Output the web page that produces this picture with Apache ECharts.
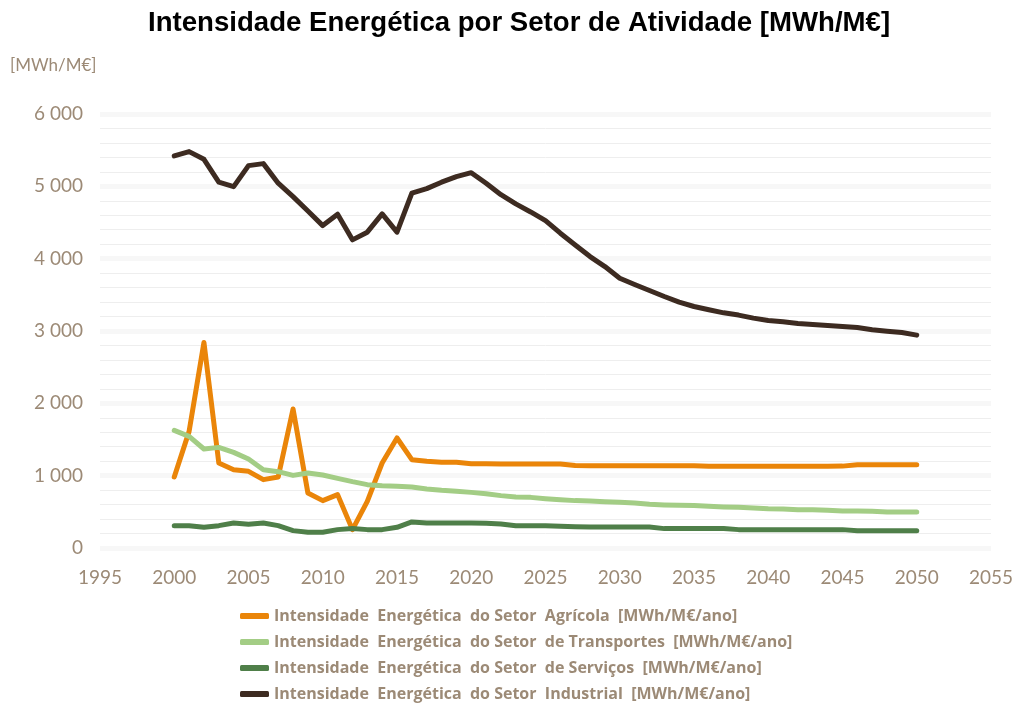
<!DOCTYPE html>
<html>
<head>
<meta charset="utf-8">
<script src="https://cdn.jsdelivr.net/npm/echarts@6/dist/echarts.min.js"></script>
<style>
  html, body { margin: 0; padding: 0; background: #fff; }
  #main { width: 1018px; height: 707px; }
</style>
</head>
<body>
<div id="main"></div>
<script>
// anos 2000-2050
var years = [];
for (var y = 2000; y <= 2050; y++) years.push(y);

var agricola = [982, 1612, 2841, 1175, 1083, 1060, 945, 982, 1921, 761,
    655, 738, 254, 645, 1175, 1521, 1221, 1198, 1184, 1184,
    1166, 1166, 1162, 1162, 1162, 1162, 1160, 1140, 1138, 1138,
    1138, 1138, 1138, 1138, 1138, 1138, 1129, 1129, 1129, 1129,
    1129, 1129, 1129, 1129, 1129, 1132, 1150, 1150, 1150, 1150, 1150];

var transportes = [1626, 1543, 1369, 1391, 1322, 1230, 1083, 1055, 1004, 1037,
    1009, 963, 917, 876, 862, 853, 844, 816, 797, 783,
    769, 751, 724, 706, 700, 682, 668, 655, 650, 641,
    631, 623, 604, 595, 590, 586, 576, 568, 562, 554,
    544, 540, 530, 530, 521, 512, 512, 507, 498, 498, 498];

var servicos = [309, 309, 286, 309, 346, 328, 346, 309, 240, 217,
    217, 254, 268, 254, 254, 286, 360, 346, 346, 346,
    346, 341, 332, 309, 309, 309, 300, 295, 290, 290,
    290, 290, 290, 268, 268, 268, 268, 268, 254, 254,
    254, 254, 254, 254, 254, 254, 240, 240, 240, 240, 240];

var industrial = [5420, 5480, 5374, 5057, 4996, 5286, 5314, 5043, 4858, 4660,
    4457, 4614, 4260, 4366, 4619, 4366, 4905, 4968, 5057, 5134,
    5189, 5043, 4884, 4757, 4646, 4526, 4352, 4190, 4029, 3891,
    3730, 3643, 3560, 3477, 3400, 3339, 3293, 3251, 3220, 3178,
    3145, 3127, 3104, 3090, 3076, 3062, 3048, 3017, 2998, 2979, 2943];

var nomes = [
    'Intensidade  Energética  do Setor  Agrícola  [MWh/M€/ano]',
    'Intensidade  Energética  do Setor  de Transportes  [MWh/M€/ano]',
    'Intensidade  Energética  do Setor  de Serviços  [MWh/M€/ano]',
    'Intensidade  Energética  do Setor  Industrial  [MWh/M€/ano]'
];
var cores = ['#EA8509', '#A3CD85', '#4F7F49', '#3D2B21'];
var corTexto = '#9C8A76';

function pares(vals) {
    return years.map(function (a, i) { return [a, vals[i]]; });
}

var myChart = echarts.init(document.getElementById('main'));

var dados = [agricola, transportes, servicos, industrial];
var series = [];
for (var i = 0; i < 4; i++) {
    series.push({
        name: nomes[i],
        type: 'line',
        symbol: 'none',
        smooth: false,
        lineStyle: { width: 5, color: cores[i], cap: 'round', join: 'round' },
        itemStyle: { color: cores[i] },
        data: pares(dados[i])
    });
}

option = {
    animation: false,
    title: {
        text: 'Intensidade Energética por Setor de Atividade [MWh/M€]',
        left: 143,
        top: 4,
        textStyle: {
            fontFamily: 'Liberation Sans',
            fontWeight: 'bold',
            fontSize: 27.6,
            color: '#000'
        }
    },
    grid: {
        left: 100,
        right: 27,
        top: 114,
        bottom: 159
    },
    legend: {
        orient: 'vertical',
        left: 240,
        top: 608,
        padding: 0,
        itemWidth: 29,
        itemHeight: 6,
        itemGap: 10,
        icon: 'roundRect',
        textStyle: {
            fontFamily: 'Open Sans',
            fontWeight: 'bold',
            fontSize: 16,
            lineHeight: 16,
            color: corTexto
        },
        data: nomes
    },
    xAxis: {
        type: 'value',
        min: 1995,
        max: 2055,
        interval: 5,
        axisLine: { show: false },
        axisTick: { show: false },
        splitLine: { show: false },
        axisLabel: {
            margin: 20,
            fontFamily: 'Lato',
            fontSize: 19,
            color: corTexto,
            formatter: function (v) { return String(v); }
        }
    },
    yAxis: {
        type: 'value',
        min: 0,
        max: 6000,
        interval: 1000,
        name: '[MWh/M€]',
        nameLocation: 'end',
        nameGap: 40,
        nameTextStyle: {
            align: 'left',
            padding: [0, 0, 0, -90],
            fontFamily: 'Lato',
            fontSize: 17,
            color: corTexto
        },
        axisLine: { show: false },
        axisTick: { show: false },
        axisLabel: {
            margin: 17,
            fontFamily: 'Lato',
            fontSize: 19,
            color: corTexto,
            formatter: function (v) {
                return String(v).replace(/\B(?=(\d{3})+(?!\d))/g, ' ');
            }
        },
        splitLine: { lineStyle: { color: '#F7F7F7', width: 5 } },
        minorTick: { show: false, splitNumber: 5 },
        minorSplitLine: { show: true, lineStyle: { color: '#EEEEEE', width: 1 } }
    },
    series: series
};

myChart.setOption(option);
</script>
</body>
</html>
